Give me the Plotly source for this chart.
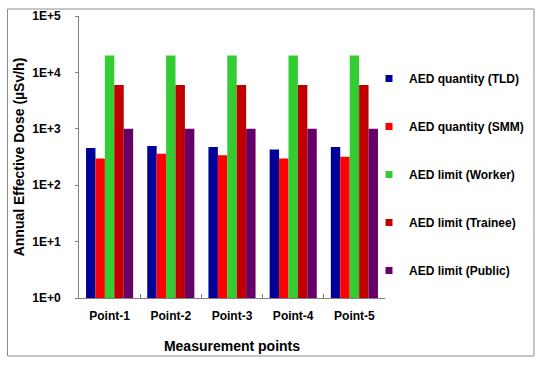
import plotly.graph_objects as go

categories = ["Point-1", "Point-2", "Point-3", "Point-4", "Point-5"]
tld = [455, 493, 474, 431, 474]
smm = [296, 362, 338, 296, 321]
worker = [20000, 20000, 20000, 20000, 20000]
trainee = [6000, 6000, 6000, 6000, 6000]
public = [1000, 1000, 1000, 1000, 1000]

series_names = ["AED quantity (TLD)", "AED quantity (SMM)", "AED limit (Worker)",
                "AED limit (Trainee)", "AED limit (Public)"]
series_values = [tld, smm, worker, trainee, public]
colors = ["#000099", "#FF0000", "#33CC33", "#C00000", "#660066"]

ytick_vals = [1, 10, 100, 1000, 10000, 100000]
ytick_text = ["1E+0", "1E+1", "1E+2", "1E+3", "1E+4", "1E+5"]

FONT = "Liberation Sans, Arial, sans-serif"

fig = go.Figure()
for name, vals, col in zip(series_names, series_values, colors):
    fig.add_trace(go.Bar(x=categories, y=vals, name=name, marker_color=col,
                         marker_line_width=0, showlegend=False))
for i, (name, col) in enumerate(zip(series_names, colors)):
    fig.add_trace(go.Scatter(x=[None], y=[None], mode="markers", name=name,
                             marker=dict(symbol="square", size=7, color=col),
                             legendgroup=f"g{i}"))

L, R, T, B = 79, 385, 16, 298
W, H = 542, 366

fig.update_layout(
    width=W, height=H,
    margin=dict(l=L, r=W - R, t=T, b=H - B, autoexpand=False),
    paper_bgcolor="white", plot_bgcolor="white",
    barmode="group", bargap=0.23, bargroupgap=0,
    font=dict(family=FONT, color="black"),
    legend=dict(x=(369 - L) / (R - L), xanchor="left",
                y=(B - 64) / (B - T), yanchor="top",
                font=dict(size=12, family=FONT, weight="bold"),
                tracegroupgap=29, bgcolor="rgba(0,0,0,0)", itemwidth=30),
    xaxis=dict(showline=True, linecolor="#808080", linewidth=1, automargin=False,
               ticks="inside", tickson="boundaries", ticklen=4, tickcolor="#808080",
               ticklabelstandoff=7,
               tickfont=dict(size=12, family=FONT, weight="bold"),
               title=dict(text="Measurement points", standoff=18,
                          font=dict(size=14, family=FONT, weight="bold")),
               showgrid=False),
    yaxis=dict(type="log", range=[0, 5], showline=True, linecolor="#808080", linewidth=1,
               automargin=False,
               tickvals=ytick_vals, ticktext=ytick_text,
               ticks="outside", ticklen=3, tickcolor="#808080",
               ticklabelstandoff=12,
               tickfont=dict(size=12, family=FONT, weight="bold"),
               title=dict(text="Annual Effective Dose (µSv/h)", standoff=4,
                          font=dict(size=14, family=FONT, weight="bold")),
               showgrid=False, zeroline=False),
)

# outer chart border
fig.add_shape(type="rect", xref="paper", yref="paper",
              x0=(7.5 - L) / (R - L), x1=(534 - L) / (R - L),
              y0=(B - 356) / (B - T), y1=(B - 9) / (B - T),
              line=dict(color="#8c8c8c", width=1), fillcolor="rgba(0,0,0,0)", layer="below")

fig.write_html("out.html", config={"displayModeBar": False},
               post_script="document.body.style.margin='0';document.body.style.overflow='hidden';")
